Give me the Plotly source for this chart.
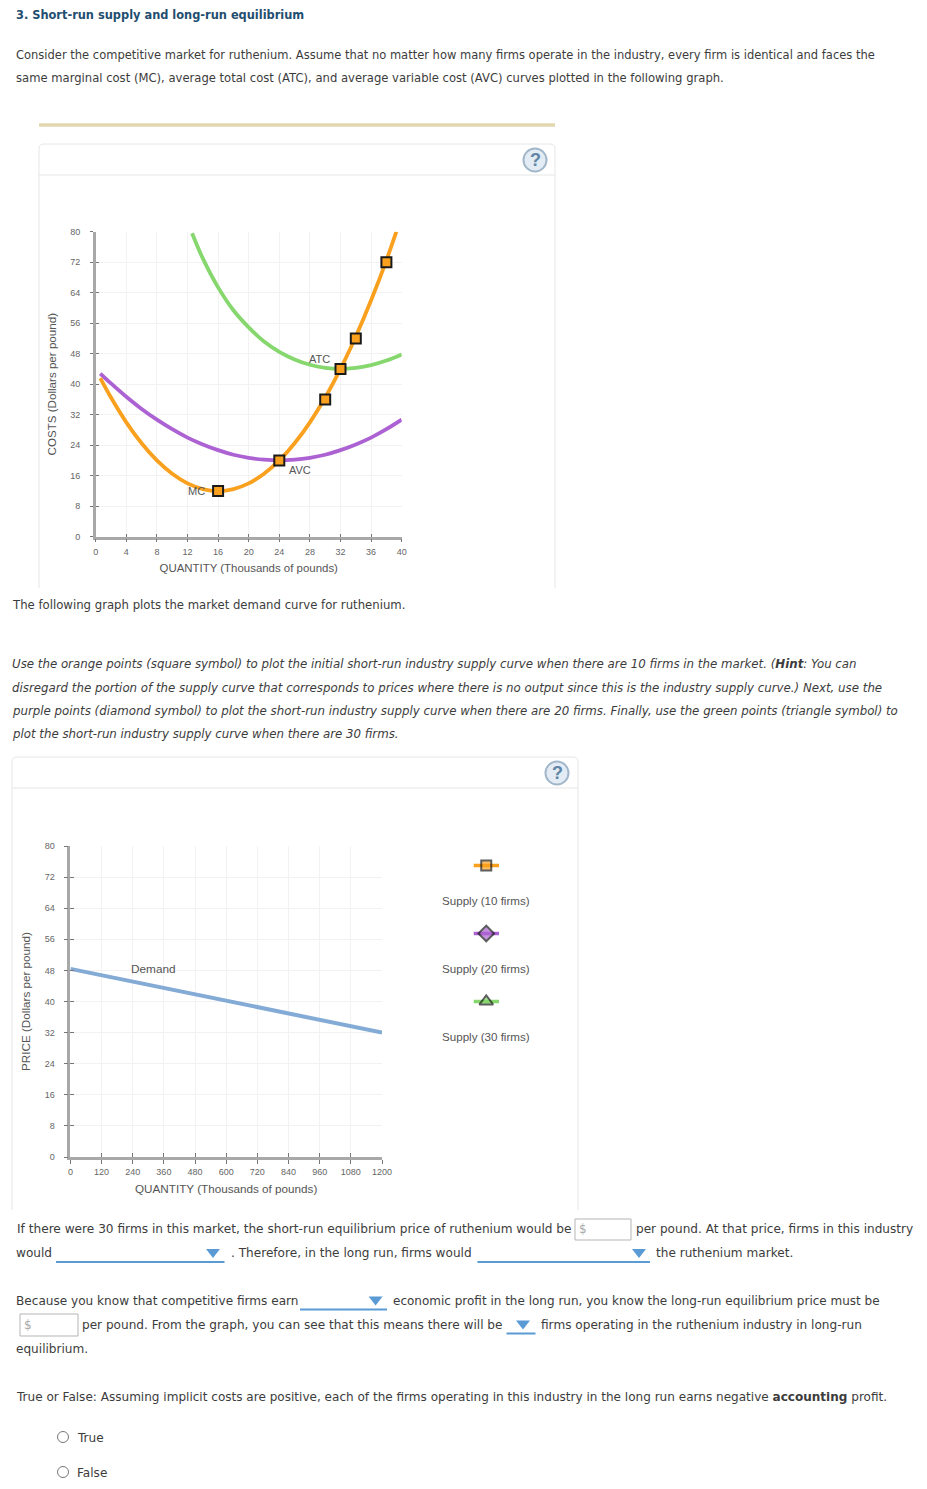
import plotly.graph_objects as go

# ---------- data ----------
COST_X_TICKS = [0, 4, 8, 12, 16, 20, 24, 28, 32, 36, 40]
COST_Y_TICKS = [0, 8, 16, 24, 32, 40, 48, 56, 64, 72, 80]
MC_Q = [0.6, 2, 4, 6, 8, 10, 12, 14, 16, 18, 20, 22, 24, 26, 28, 30, 32, 34, 36, 38, 39.3]
MC_C = [41.6, 36.5, 30, 24.5, 20, 16.5, 14, 12.5, 12, 12.5, 14, 16.5, 20, 24.5, 30, 36.5, 44, 52.5, 62, 72.5, 80]
ATC_Q = [12.6, 14, 16, 18, 20, 22, 24, 26, 28, 30, 32, 34, 36, 38, 40]
ATC_C = [79.6, 73, 65.4, 59.4, 54.9, 51.2, 48.5, 46.5, 45.1, 44.3, 44, 44.3, 45, 46.2, 47.8]
AVC_Q = [0.6, 2, 4, 6, 8, 10, 12, 14, 16, 18, 20, 22, 24, 26, 28, 30, 32, 34, 36, 38, 40]
AVC_C = [42.8, 40.2, 36.7, 33.5, 30.7, 28.2, 26, 24.2, 22.7, 21.5, 20.7, 20.2, 20, 20.2, 20.7, 21.5, 22.7, 24.2, 26, 28.2, 30.7]
MC_POINT_Q = [16, 24, 30, 32, 34, 38]
MC_POINT_C = [12, 20, 36, 44, 52, 72]
MARKET_X_TICKS = [0, 120, 240, 360, 480, 600, 720, 840, 960, 1080, 1200]
MARKET_Y_TICKS = [0, 8, 16, 24, 32, 40, 48, 56, 64, 72, 80]
DEMAND_Q = [0, 1200]
DEMAND_P = [48.4, 32]
SUPPLY_NAMES = ["Supply (10 firms)", "Supply (20 firms)", "Supply (30 firms)"]

TITLE = "3. Short-run supply and long-run equilibrium"
INTRO = ["Consider the competitive market for ruthenium. Assume that no matter how many firms operate in the industry, every firm is identical and faces the",
         "same marginal cost (MC), average total cost (ATC), and average variable cost (AVC) curves plotted in the following graph."]
MID = "The following graph plots the market demand curve for ruthenium."
INSTR = ["Use the orange points (square symbol) to plot the initial short-run industry supply curve when there are 10 firms in the market. (<b>Hint</b>: You can",
         "disregard the portion of the supply curve that corresponds to prices where there is no output since this is the industry supply curve.) Next, use the",
         "purple points (diamond symbol) to plot the short-run industry supply curve when there are 20 firms. Finally, use the green points (triangle symbol) to",
         "plot the short-run industry supply curve when there are 30 firms."]

# ---------- page geometry ----------
W, H = 927, 1489
def px(x): return x / W
def py(y): return 1 - y / H

ORANGE, GREEN, PURPLE, BLUE = "#F9A11F", "#86D76E", "#AC62D2", "#83ABD6"
TXT = "#3c3c3c"
PAGE_FONT = "DejaVu Sans"
CHART_FONT = "Liberation Sans"
BOTTOM_SIZE = 12.1

annotations, shapes = [], []

def text(x, y, s, size=11.55, color=TXT, anchor="left", family=PAGE_FONT):
    annotations.append(dict(x=px(x - (1 if anchor == "left" else 0)), y=py(y + 0.3), xref="paper", yref="paper", text=s, showarrow=False,
                            xanchor=anchor, yanchor="middle", align="left", borderpad=0,
                            font=dict(family=family, size=size, color=color)))

def path(d_points, close=False, **kw):
    d = "M " + " L ".join(f"{px(x):.5f},{py(y):.5f}" for x, y in d_points) + (" Z" if close else "")
    shapes.append(dict(type="path", xref="paper", yref="paper", path=d, layer="below", **kw))

def panel(x0, x1, top, header, bottom):
    c = "#E6E6E6"
    d = (f"M {px(x0):.5f},{py(bottom):.5f} L {px(x0):.5f},{py(top+5):.5f} "
         f"Q {px(x0):.5f},{py(top):.5f} {px(x0+5):.5f},{py(top):.5f} L {px(x1-5):.5f},{py(top):.5f} "
         f"Q {px(x1):.5f},{py(top):.5f} {px(x1):.5f},{py(top+5):.5f} L {px(x1):.5f},{py(bottom):.5f}")
    shapes.append(dict(type="path", xref="paper", yref="paper", path=d, layer="below",
                       line=dict(color=c, width=1)))
    path([(x0, header), (x1, header)], line=dict(color=c, width=1))

def help_icon(cx, cy):
    r = 11.5
    shapes.append(dict(type="circle", xref="paper", yref="paper", x0=px(cx-r), x1=px(cx+r), y0=py(cy+r), y1=py(cy-r),
                       line=dict(color="#A3B7CA", width=2), fillcolor="#E3ECF4", layer="below"))
    text(cx, cy - 0.5, "<b>?</b>", size=18, color="#5F84A6", anchor="center", family="Liberation Sans")

def dropdown(x0, x1, yline, tx):
    path([(x0, yline), (x1, yline)], line=dict(color="#5B9BD5", width=2))
    path([(tx-7, yline-13), (tx+7, yline-13), (tx, yline-4)], close=True,
         fillcolor="#5B9BD5", line=dict(color="#5B9BD5", width=0))

def input_box(x0, x1, y0, y1):
    shapes.append(dict(type="rect", xref="paper", yref="paper", x0=px(x0), x1=px(x1), y0=py(y1), y1=py(y0),
                       line=dict(color="#B5B5B5", width=1), fillcolor="white", layer="below"))

def radio(cx, cy):
    r = 5.5
    shapes.append(dict(type="circle", xref="paper", yref="paper", x0=px(cx-r), x1=px(cx+r), y0=py(cy+r), y1=py(cy-r),
                       line=dict(color="#777777", width=1), fillcolor="white", layer="below"))

# page text
text(16, 15, f"<b>{TITLE}</b>", size=11.4, color="#1F4E70")
text(16, 55, INTRO[0], size=11.5); text(16, 78, INTRO[1], size=11.6)
text(12, 605, MID, size=11.7)
for i, line in enumerate(INSTR):
    text(12, 664 + i * 23.2, f"<i>{line}</i>", size=11.8)

B = dict(size=BOTTOM_SIZE)
text(16.5, 1229, "If there were 30 firms in this market, the short-run equilibrium price of ruthenium would be", size=12.15)
text(579, 1229, "$", color="#A8A8A8", size=12)
text(636, 1229, "per pound. At that price, firms in this industry", **B)
text(16, 1253, "would", **B)
text(231, 1253, ". Therefore, in the long run, firms would", **B)
text(656, 1253, "the ruthenium market.", **B)
text(16, 1301, "Because you know that competitive firms earn", **B)
text(393, 1301, "economic profit in the long run, you know the long-run equilibrium price must be", size=12.0)
text(24, 1325, "$", color="#A8A8A8", size=12)
text(82, 1325, "per pound. From the graph, you can see that this means there will be", **B)
text(541, 1325, "firms operating in the ruthenium industry in long-run", **B)
text(16, 1349, "equilibrium.", **B)
text(16, 1397, "True or False: Assuming implicit costs are positive, each of the firms operating in this industry in the long run earns negative <b>accounting</b> profit.", size=12.05)
text(77, 1438, "True", **B); text(77, 1473, "False", **B)

# page furniture
path([(39, 125), (555, 125)], line=dict(color="#E2D7AE", width=3.5))
panel(39, 555, 144, 175, 588)
panel(12, 578, 757, 788, 1210)
help_icon(535, 160); help_icon(557, 773)
input_box(575, 631, 1219, 1240); input_box(20, 78, 1314, 1336)
dropdown(56, 224.5, 1262, 213); dropdown(477.5, 650, 1262, 639)
dropdown(300, 387, 1309.5, 375.6); dropdown(506.5, 535.5, 1333.5, 523)
radio(63, 1437); radio(63, 1472)

# ---------- figure ----------
fig = go.Figure()
def add(x, y, ax, **kw):
    fig.add_trace(go.Scatter(x=x, y=y, xaxis="x" + ax, yaxis="y" + ax, showlegend=False, hoverinfo="skip", **kw))

CURVE = dict(width=3.8, shape="spline", smoothing=1)
add(ATC_Q, ATC_C, "", mode="lines", line=dict(color=GREEN, **CURVE))
add(AVC_Q, AVC_C, "", mode="lines", line=dict(color=PURPLE, **CURVE))
add(MC_Q, MC_C, "", mode="lines", line=dict(color=ORANGE, **CURVE))
add(MC_POINT_Q, MC_POINT_C, "", mode="markers",
    marker=dict(symbol="square", size=10, color=ORANGE, line=dict(color="#1a1a1a", width=2)))
add(DEMAND_Q, DEMAND_P, "2", mode="lines", line=dict(color=BLUE, width=4))

# legend samples
leg_styles = [("square", ORANGE, 10), ("diamond", PURPLE, 12), ("triangle-up", GREEN, 12)]
for i, (name, (sym, col, sz)) in enumerate(zip(SUPPLY_NAMES, leg_styles)):
    add([-1, 0, 1], [name] * 3, "3", mode="lines+markers", line=dict(color=col, width=3.5),
        marker=dict(symbol=sym, color=col, size=[0, sz, 0], line=dict(color="#1a1a1a", width=[0, 2, 0])),
        cliponaxis=False)
    annotations.append(dict(x=0, y=name, xref="x3", yref="y3", text=name, showarrow=False, yshift=-35,
                            xanchor="center", yanchor="middle",
                            font=dict(family=CHART_FONT, size=11.6, color="#555555")))

# invisible traces carrying the inward half of the crossing ticks
add([0], [0], "4", mode="markers", marker=dict(opacity=0))
add([0], [0], "5", mode="markers", marker=dict(opacity=0))

def base_axis(vals, rng, dom, standoff, title=None, length=3, tsize=11.5, tstand=9):
    return dict(domain=dom, range=rng, tickmode="array", tickvals=vals, ticktext=[str(v) for v in vals],
                ticks="outside", ticklen=length, tickwidth=1, tickcolor="#777777",
                tickfont=dict(family=CHART_FONT, size=9, color="#666666"),
                showline=True, linecolor="#A8A8A8", linewidth=2.5, zeroline=False,
                showgrid=True, gridcolor="#F2F2F2", gridwidth=1,
                ticklabelstandoff=standoff,
                title=dict(text=title, font=dict(family=CHART_FONT, size=tsize, color="#555555"), standoff=tstand),
                automargin=False, fixedrange=True)

def inner_axis(vals, rng, dom, overlay, anchor, side, length):
    return dict(domain=dom, range=rng, tickmode="array", tickvals=vals, ticks="inside", ticklen=length,
                tickwidth=1, tickcolor="#777777", showticklabels=False, showgrid=False, zeroline=False,
                showline=False, overlaying=overlay, anchor=anchor, side=side, fixedrange=True)

d1x = [px(95.7), px(401.7)]; d1y = [py(536.7), py(231.7)]
d2x = [px(70.4), px(382)]; d2y = [py(1157), py(846)]

xa1 = base_axis(COST_X_TICKS, [0, 40], d1x, 2, "QUANTITY (Thousands of pounds)", 3, 11.45, 8); xa1["anchor"] = "y"
ya1 = base_axis(COST_Y_TICKS, [0, 80], d1y, 8, "COSTS (Dollars per pound)", 3, 11.6, 12); ya1["anchor"] = "x"
xa2 = base_axis(MARKET_X_TICKS, [0, 1200], d2x, 0, "QUANTITY (Thousands of pounds)", 4, 11.7, 10); xa2["anchor"] = "y2"
ya2 = base_axis(MARKET_Y_TICKS, [0, 80], d2y, 7, "PRICE (Dollars per pound)", 4, 11.7, 12); ya2["anchor"] = "x2"

LBL = dict(showarrow=False, font=dict(family=CHART_FONT, size=11, color="#555555"))
annotations += [
    dict(x=29.3, y=46.5, xref="x", yref="y", text="ATC", **LBL),
    dict(x=26.7, y=17.5, xref="x", yref="y", text="AVC", **LBL),
    dict(x=13.2, y=12, xref="x", yref="y", text="MC", **LBL),
    dict(x=320, y=48.4, xref="x2", yref="y2", text="Demand", showarrow=False,
         font=dict(family=CHART_FONT, size=11.8, color="#555555")),
]

fig.update_layout(
    width=W, height=H, autosize=False, margin=dict(l=0, r=0, t=0, b=0),
    paper_bgcolor="white", plot_bgcolor="rgba(0,0,0,0)", showlegend=False, hovermode=False,
    xaxis=xa1, yaxis=ya1, xaxis2=xa2, yaxis2=ya2,
    xaxis3=dict(domain=[px(473.5), px(499)], range=[-1, 1], visible=False, anchor="y3", fixedrange=True),
    yaxis3=dict(domain=[py(1035.5), py(831.5)], type="category", categoryorder="array", categoryarray=SUPPLY_NAMES,
                range=[2.5, -0.5], visible=False, anchor="x3", fixedrange=True),
    xaxis4=inner_axis(COST_X_TICKS, [0, 40], d1x, "x", "y4", "bottom", 3),
    yaxis4=inner_axis(COST_Y_TICKS, [0, 80], d1y, "y", "x4", "left", 3),
    xaxis5=inner_axis(MARKET_X_TICKS, [0, 1200], d2x, "x2", "y5", "bottom", 4),
    yaxis5=inner_axis(MARKET_Y_TICKS, [0, 80], d2y, "y2", "x5", "left", 4),
    annotations=annotations, shapes=shapes,
)

fig.write_html("out.html", config={"displayModeBar": False, "responsive": False},
               post_script="document.body.style.margin='0';document.body.style.overflow='hidden';")
